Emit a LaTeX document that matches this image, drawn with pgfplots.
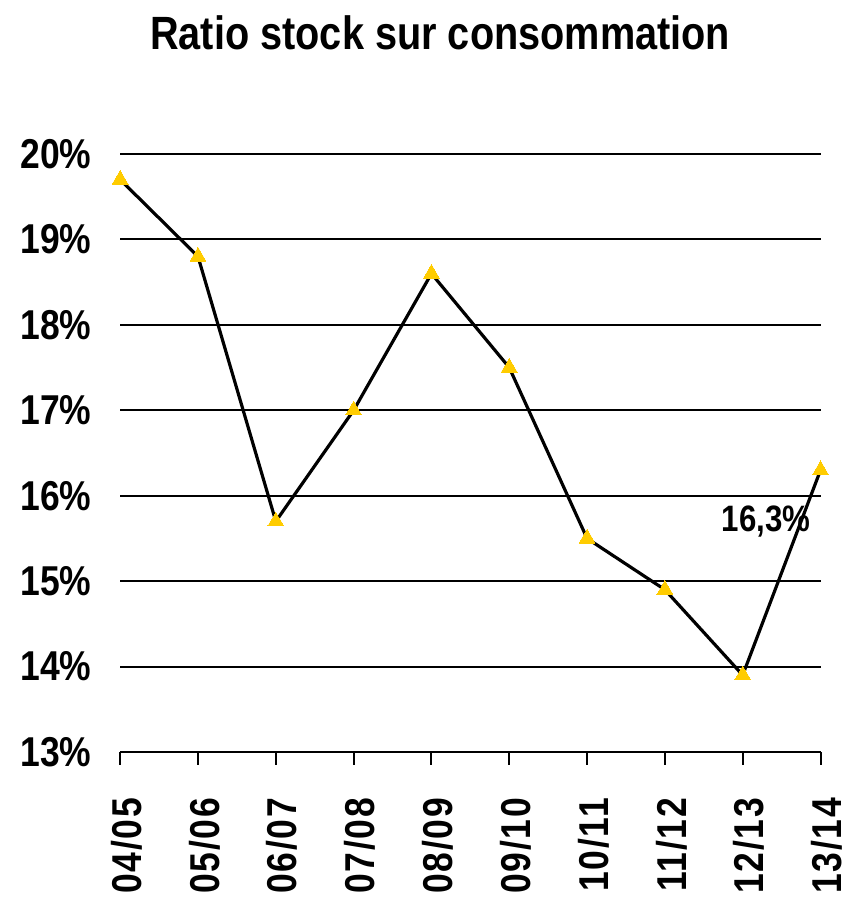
\documentclass[border=0pt]{standalone}
\usepackage{fontspec}
\setmainfont{Liberation Sans}[FakeStretch=0.85]
\usepackage{pgfplots}
\pgfplotsset{compat=1.18}

\definecolor{markyellow}{HTML}{FFCC00}

\begin{document}
\begin{tikzpicture}
\begin{axis}[
    width=352.5pt, height=301pt, scale only axis,
    xmin=0, xmax=9, ymin=13, ymax=20,
    clip=false,
    axis line style={draw=none},
    xtick={0,...,9},
    xticklabels={04/05,05/06,06/07,07/08,08/09,09/10,10/11,11/12,12/13,13/14},
    ytick={13,...,20},
    yticklabels={13\%,14\%,15\%,16\%,17\%,18\%,19\%,20\%},
    tick pos=left,
    tick align=outside,
    major tick length=6.5pt,
    xtick style={black, line width=1pt},
    ytick style={draw=none},
    ymajorgrids,
    grid style={black, line width=1pt},
    ticklabel style={font=\fontsize{21}{21}\selectfont\bfseries},
    yticklabel style={xshift=-4.5pt},
    xticklabel style={font=\fontsize{21}{21}\selectfont\bfseries\addfontfeature{LetterSpace=4},
        rotate=90, anchor=east, inner sep=0pt, xshift=-16.5pt, yshift=-3.25pt},
    title={Ratio stock sur consommation},
    title style={font=\fontsize{23.5}{23.5}\selectfont\bfseries,
        at={(rel axis cs:0.457,1.182)}, anchor=center},
]
\addplot[black, line width=1.6pt, mark=triangle*, mark size=4.6pt,
    mark options={fill=markyellow, draw=markyellow, line width=0pt}]
coordinates {
    (0,19.7) (1,18.8) (2,15.7) (3,17.0) (4,18.6)
    (5,17.5) (6,15.5) (7,14.9) (8,13.9) (9,16.3)
};
\node[font=\fontsize{18.5}{18.5}\selectfont\bfseries] at (axis cs:8.30,15.70) {16,3\%};
\coordinate (bl) at (rel axis cs:-0.1716,-0.2675);
\coordinate (tr) at (rel axis cs:1.04,1.2575);
\end{axis}
\pgfresetboundingbox
\useasboundingbox (bl) rectangle (tr);
\end{tikzpicture}
\end{document}
